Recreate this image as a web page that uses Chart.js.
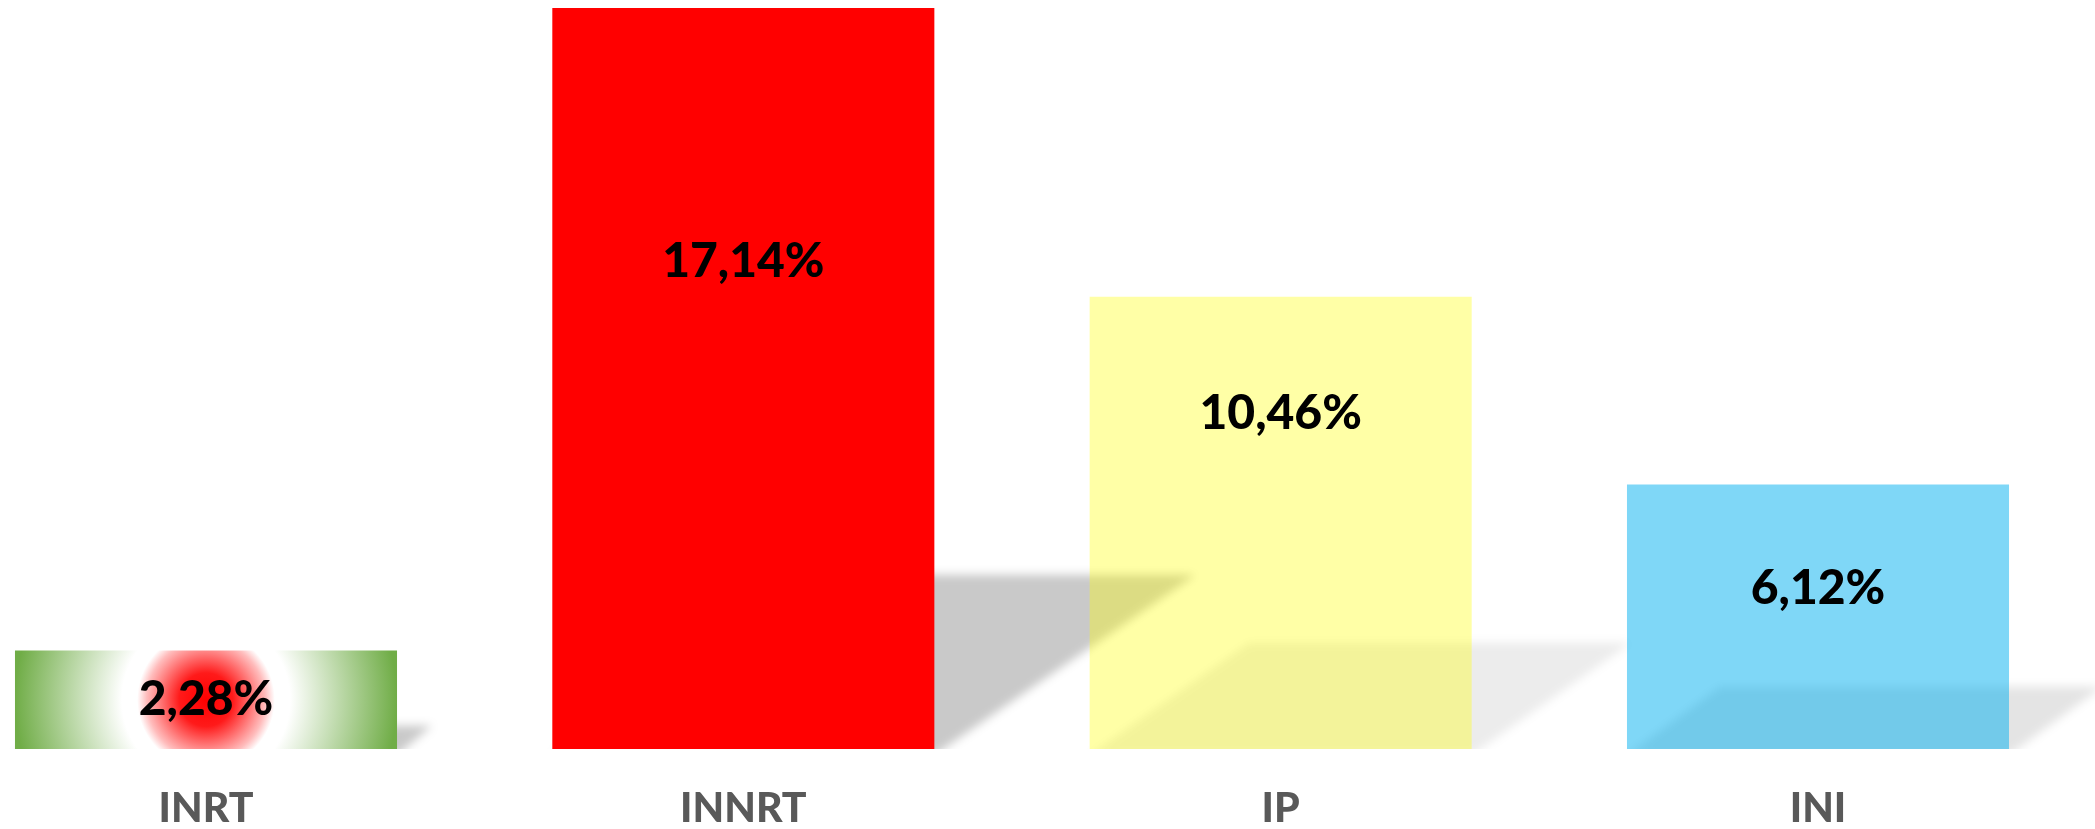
<!DOCTYPE html>
<html>
<head>
<meta charset="utf-8">
<script src="https://cdn.jsdelivr.net/npm/chart.js@4"></script>
<style>
  html, body { margin: 0; padding: 0; background: #fff; }
  #wrap { width: 2095px; height: 829px; position: relative; }
</style>
</head>
<body>
<div id="wrap"><canvas id="chart"></canvas></div>
<script>
// chart data
const categories = ['INRT', 'INNRT', 'IP', 'INI'];
const values = [2.28, 17.14, 10.46, 6.12];
const barColors = ['#70AD47', '#FF0000', 'rgba(255, 255, 0, 0.35)', 'rgba(0, 176, 240, 0.5)'];
const barOpacity = [1, 1, 0.35, 0.5];

function pctLabel(v) {
    return v.toFixed(2).replace('.', ',') + '%';
}

// first bar: red spot in the middle fading through white to green
function barFill(c) {
    const i = c.dataIndex;
    if (i !== 0) return barColors[i];
    const chart = c.chart;
    const xs = chart.scales.x, ys = chart.scales.y;
    if (!xs || !ys || !chart.chartArea) return barColors[0];
    const cx = xs.getPixelForValue(i);
    const top = ys.getPixelForValue(values[i]);
    const base = ys.getPixelForValue(0);
    const cy = (top + base) / 2;
    const r = (xs.getPixelForValue(1) - xs.getPixelForValue(0)) * 0.711 / 2;
    const g = chart.ctx.createRadialGradient(cx, cy, 0, cx, cy, r);
    g.addColorStop(0, '#ff0000');
    g.addColorStop(0.14, '#ff1a1a');
    g.addColorStop(0.31, '#ffbcbc');
    g.addColorStop(0.36, '#ffffff');
    g.addColorStop(0.44, '#ffffff');
    g.addColorStop(1, '#70ad47');
    return g;
}

// slanted floor shadow behind each bar
const floorShadow = {
    id: 'floorShadow',
    beforeDatasetsDraw(chart, args, opts) {
        const ctx = chart.ctx;
        const meta = chart.getDatasetMeta(0);
        meta.data.forEach((bar, i) => {
            const p = bar.getProps(['x', 'y', 'base', 'width'], true);
            const left = p.x - p.width / 2, right = p.x + p.width / 2;
            const h = (p.base - p.y) * opts.heightRatio;
            const dx = h * opts.slant;
            ctx.save();
            ctx.beginPath();
            ctx.rect(0, 0, chart.width, p.base);
            ctx.clip();
            ctx.filter = 'blur(' + opts.blur + 'px)';
            ctx.fillStyle = 'rgba(0, 0, 0, ' + (opts.alpha * barOpacity[i]) + ')';
            ctx.beginPath();
            ctx.moveTo(left, p.base + 6);
            ctx.lineTo(right, p.base + 6);
            ctx.lineTo(right + dx, p.base - h);
            ctx.lineTo(left + dx, p.base - h);
            ctx.closePath();
            ctx.fill();
            ctx.restore();
        });
    }
};

// value labels inside the bars
const valueLabels = {
    id: 'valueLabels',
    afterDatasetsDraw(chart, args, opts) {
        const ctx = chart.ctx;
        const meta = chart.getDatasetMeta(0);
        ctx.save();
        ctx.font = '900 ' + opts.size + 'px Lato';
        ctx.fillStyle = '#000';
        ctx.textAlign = 'center';
        ctx.textBaseline = 'alphabetic';
        meta.data.forEach((bar, i) => {
            const y = bar.y + opts.drop[i] + opts.size * 0.36;
            ctx.fillText(pctLabel(values[i]), bar.x, y);
        });
        ctx.restore();
    }
};

const ctx = document.getElementById('chart').getContext('2d');
new Chart(ctx, {
    type: 'bar',
    data: {
        labels: categories,
        datasets: [{
            data: values,
            backgroundColor: barFill,
            borderWidth: 0,
            categoryPercentage: 1,
            barPercentage: 0.711,
            clip: false
        }]
    },
    options: {
        responsive: true,
        maintainAspectRatio: false,
        animation: false,
        layout: { padding: { left: 206, right: 277, top: 8, bottom: -31 } },
        plugins: {
            legend: { display: false },
            tooltip: { enabled: false },
            floorShadow: { heightRatio: 0.235, slant: 1.5, blur: 5, alpha: 0.21 },
            valueLabels: { size: 48, drop: [47, 252, 115, 102] }
        },
        scales: {
            x: {
                offset: false,
                grid: { display: false },
                border: { display: false },
                ticks: {
                    autoSkip: false,
                    maxRotation: 0,
                    padding: 31,
                    color: '#595959',
                    font: { family: 'Lato', size: 41, weight: '900', lineHeight: 1 }
                }
            },
            y: {
                display: false,
                min: 0,
                max: Math.max(...values)
            }
        }
    },
    plugins: [floorShadow, valueLabels]
});
</script>
</body>
</html>
